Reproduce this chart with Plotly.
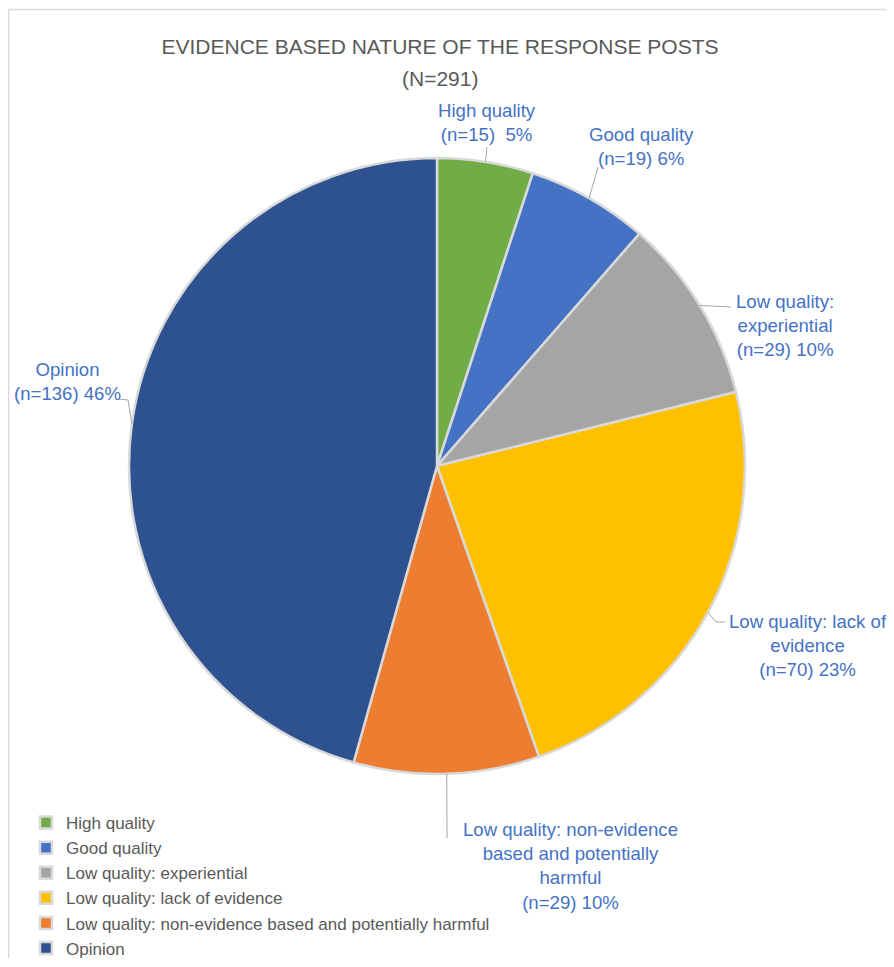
import math
import plotly.graph_objects as go

# ---------------- data ----------------
categories = [
    "High quality",
    "Good quality",
    "Low quality: experiential",
    "Low quality: lack of evidence",
    "Low quality: non-evidence based and potentially harmful",
    "Opinion",
]
counts = [15, 19, 29, 70, 29, 136]
label_names = [
    "High quality",
    "Good quality",
    "Low quality:<br>experiential",
    "Low quality: lack of<br>evidence",
    "Low quality: non-evidence<br>based and potentially<br>harmful",
    "Opinion",
]
pct_text = ["5%", "6%", "10%", "23%", "10%", "46%"]
count_sep = ["  ", " ", " ", " ", " ", " "]
title_text = "EVIDENCE BASED NATURE OF THE RESPONSE POSTS"
subtitle_text = "(N=291)"

# ---------------- style / layout ----------------
colors = ["#70AD47", "#4472C4", "#A5A5A5", "#FFC000", "#ED7D31", "#2E528F"]
# figure sized to fit inside the page body (8px default body margin)
W, H = 878, 950
OFF = 8
CX, CY, R = 437, 466, 308          # in screen px
FONT = "Liberation Sans, Arial, Helvetica, sans-serif"
GREY = "#595959"
LBL = "#4472C4"

# label centres (screen px) and leader-line bends (screen px)
label_pos = [(487, 122), (641, 146), (785, 325), (808, 645), (570, 866), (67, 381)]
leader_pts = [
    [(487, 147)],
    [(598, 167)],
    [(731, 307)],
    [(716, 622), (725, 622)],
    [(447, 838)],
    [(128, 400), (119, 399)],
]


def P(x, y):
    return (x - OFF) / W, 1 - (y - OFF) / H


fig = go.Figure()
x0, y1 = P(CX - R, CY - R)
x1, y0 = P(CX + R, CY + R)
fig.add_trace(go.Pie(
    labels=categories,
    values=counts,
    sort=False,
    direction="clockwise",
    rotation=0,
    textinfo="none",
    hoverinfo="label+value+percent",
    marker=dict(colors=colors, line=dict(color="#D9D9D9", width=2.5)),
    domain=dict(x=[x0, x1], y=[y0, y1]),
))

total = sum(counts)
annotations = []
shapes = []
cum = 0
for i, c in enumerate(counts):
    mid = (cum + c / 2) / total * 2 * math.pi
    cum += c
    ex = CX + R * math.sin(mid)
    ey = CY - R * math.cos(mid)
    pts = [(ex, ey)] + leader_pts[i]
    path = ""
    for j, (px, py) in enumerate(pts):
        qx, qy = P(px, py)
        path += ("M" if j == 0 else " L") + f" {qx:.5f} {qy:.5f}"
    shapes.append(dict(type="path", path=path, xref="paper", yref="paper",
                       line=dict(color="#A6A6A6", width=1)))
    lx, ly = P(*label_pos[i])
    annotations.append(dict(
        x=lx, y=ly, xref="paper", yref="paper", showarrow=False,
        xanchor="center", yanchor="middle", align="center",
        text=f"{label_names[i]}<br>(n={c}){count_sep[i]}{pct_text[i]}",
        font=dict(family=FONT, size=18.6, color=LBL),
    ))

sx, sy = P(440, 78)
annotations.append(dict(x=sx, y=sy, xref="paper", yref="paper", showarrow=False,
                        xanchor="center", yanchor="middle", text=subtitle_text,
                        font=dict(family=FONT, size=21, color=GREY)))

# chart frame (left and top edges)
fx0, fy0 = 0.6 / W, 1 - 1.5 / H
fx1 = 1.0
for (a, b, c, d) in [(fx0, fy0, fx0, -0.01), (fx0, fy0, fx1, fy0)]:
    shapes.append(dict(type="line", x0=a, y0=b, x1=c, y1=d, xref="paper", yref="paper",
                       line=dict(color="#D9D9D9", width=1.5)))

tx, ty = P(440, 47)
lgx, lgy = P(26, 805)
fig.update_layout(
    width=W, height=H, autosize=False,
    margin=dict(l=0, r=0, t=0, b=0, autoexpand=False),
    paper_bgcolor="white", plot_bgcolor="white",
    title=dict(text=title_text, x=tx, y=ty, xanchor="center", yanchor="middle",
               xref="paper", yref="paper",
               font=dict(family=FONT, size=21, color=GREY)),
    legend=dict(x=lgx, y=lgy, xanchor="left", yanchor="top", orientation="v",
                font=dict(family=FONT, size=17, color=GREY), bgcolor="rgba(0,0,0,0)",
                traceorder="normal"),
    showlegend=True,
    annotations=annotations,
    shapes=shapes,
)

fig.write_html("out.html")
